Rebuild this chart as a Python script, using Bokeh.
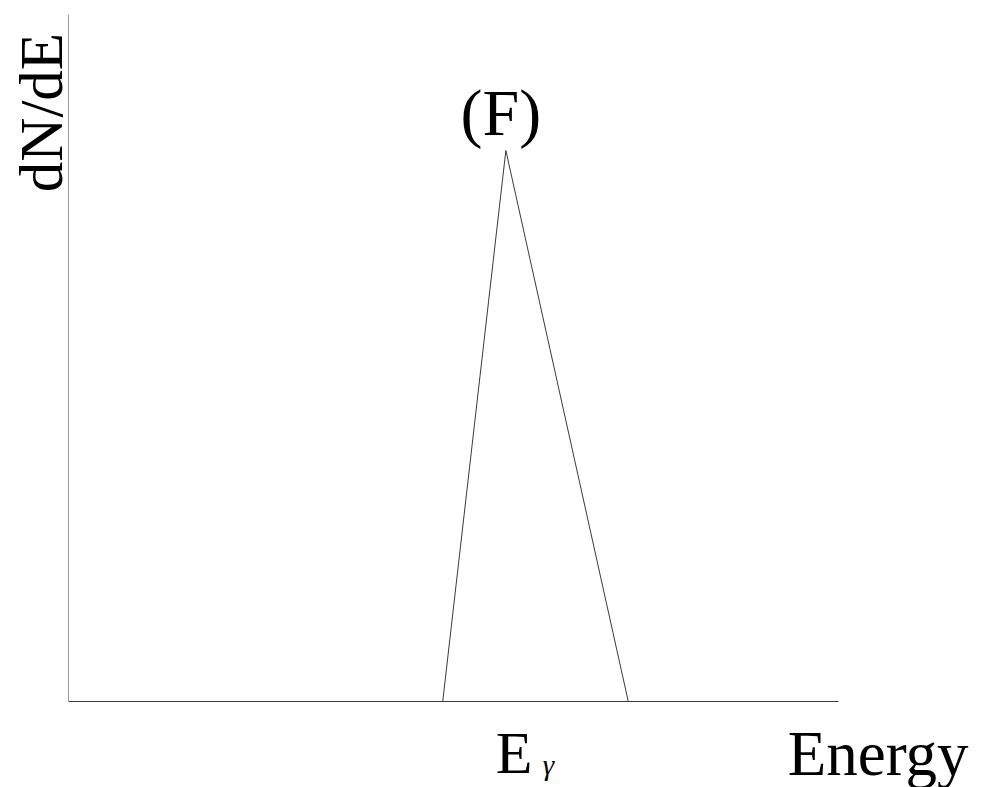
import math

from bokeh.embed import file_html
from bokeh.models import Label, Range1d
from bokeh.plotting import figure
from bokeh.resources import INLINE

# Schematic spectrum (F): a single triangular line at E_gamma
energy = [4.86, 5.68, 7.27]
dnde = [0.0, 1.0, 0.0]
peak_label = "(F)"
x_label = "Energy"
y_label = "dN/dE"
line_label = "E"
line_sub = "\u03b3"

# extent of the drawn axes (data units)
E_MIN, E_MAX = 0.0, 10.0
N_MAX = 1.2468

W, H = 981, 787
LEFT, RIGHT, TOP, BOTTOM = 68, 143, 14, 86          # margins in px
sx = (W - LEFT - RIGHT) / (E_MAX - E_MIN)           # px per energy unit
sy = (H - TOP - BOTTOM) / N_MAX                     # px per dN/dE unit

SERIF = "Liberation Serif"

p = figure(
    width=W,
    height=H,
    output_backend="svg",
    toolbar_location=None,
    x_range=Range1d(E_MIN - LEFT / sx, E_MAX + RIGHT / sx),
    y_range=Range1d(-BOTTOM / sy, N_MAX + TOP / sy),
    min_border=0,
    x_axis_type=None,
    y_axis_type=None,
)
p.outline_line_color = None
p.grid.visible = False
p.background_fill_color = "white"
p.border_fill_color = "white"

# axis lines (no ticks)
p.segment(x0=[E_MIN], y0=[0], x1=[E_MAX], y1=[0], line_color="#3a3a3a", line_width=1)
p.segment(x0=[E_MIN], y0=[0], x1=[E_MIN], y1=[N_MAX], line_color="#9a9a9a", line_width=1)

# the spectrum
p.line(energy, dnde, line_color="#3a3a3a", line_width=1)

peak_x = energy[1]
peak_y = dnde[1]


def lab(x, y, text, size, **kw):
    opts = dict(text_font=SERIF, text_color="black", text_baseline="middle")
    opts.update(kw)
    p.add_layout(Label(x=x, y=y, text=text, text_font_size=size, **opts))


# labels are placed by their vertical middle
lab(peak_x - 5 / sx, peak_y + 38 / sy, peak_label, "66px", text_align="center")
lab(peak_x - 10 / sx, -51 / sy, line_label, "60px", text_align="left")
lab(peak_x + 37 / sx, -63 / sy, line_sub, "29px", text_align="left", text_font_style="italic")
lab(E_MAX + 130 / sx, -52 / sy, x_label, "63px", text_align="right")
lab(E_MIN - 27 / sx, N_MAX - 98 / sy, y_label, "61px", text_align="center", angle=math.pi / 2)

open("out.html", "w").write(file_html(p, INLINE))
